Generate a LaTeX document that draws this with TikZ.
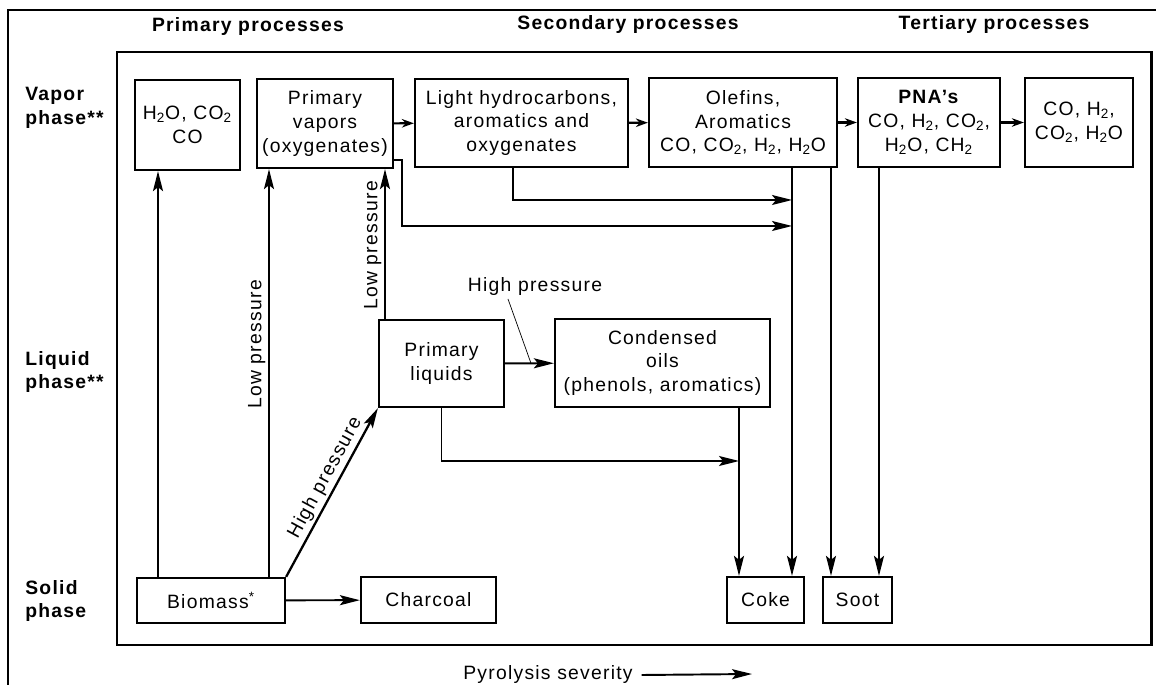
\documentclass[tikz,border=0pt]{standalone}
\usepackage{fontspec}
\setmainfont[LetterSpace=6.5]{Liberation Sans}
\usepackage{tikz}
\usetikzlibrary{arrows.meta,calc}
\newcommand{\subtwo}{\textsubscript{2}}

\begin{document}
\begin{tikzpicture}[x=0.02cm,y=-0.02cm,
	  >={Stealth[length=4mm,width=2mm,inset=0.8mm]},
	  box/.style={draw,line width=1.3pt,align=center,inner sep=0pt,font=\fontsize{11}{13.6}\selectfont},
	  head/.style={font=\bfseries\fontsize{11}{13}\selectfont},
	  phase/.style={anchor=west,align=left,inner sep=0pt,font=\bfseries\fontsize{11}{13.6}\selectfont},
	  lbl/.style={font=\fontsize{11}{13}\selectfont,inner sep=1.5pt},
	  conn/.style={->,line width=1.1pt},
	  short/.style={-{Stealth[length=2.4mm,width=1.7mm]},line width=1.2pt},
	  leader/.style={line width=0.4pt}]
	  \useasboundingbox (0,0) rectangle (1156,685);
	  \draw[line width=0.6pt] (8,685) -- (8,10) -- (1156,10);
	  \draw[line width=1.7pt] (117,52) rectangle (1151,645);
	  \node[head] (hprim) at (248,27) {Primary processes};
	  \node[head] (hsec) at (628,25) {Secondary processes};
	  \node[head] (hter) at (994,25) {Tertiary processes};
	  \node[phase] (vap) at (25,108) {Vapor\\phase**};
	  \node[phase] (liq) at (25,372) {Liquid\\phase**};
	  \node[phase] (sol) at (25,601) {Solid\\phase};
	  \node[box,minimum width=2.1cm,minimum height=1.8cm] (h2o) at (187.5,125) {H\subtwo O, CO\subtwo\\CO};
	  \node[box,minimum width=2.72cm,minimum height=1.78cm] (pvap) at (325,123.5) {Primary\\vapors\\(oxygenates)};
	  \node[box,minimum width=4.26cm,minimum height=1.76cm] (light) at (521.5,123) {Light hydrocarbons,\\aromatics and\\oxygenates};
	  \node[box,minimum width=3.76cm,minimum height=1.78cm] (olef) at (743,122.5) {Olefins,\\Aromatics\\CO, CO\subtwo, H\subtwo, H\subtwo O};
	  \node[box,minimum width=2.84cm,minimum height=1.78cm] (pna) at (929,122.5) {\textbf{PNA's}\\CO, H\subtwo, CO\subtwo,\\H\subtwo O, CH\subtwo};
	  \node[box,minimum width=2.16cm,minimum height=1.78cm] (gas) at (1079,122.5) {CO, H\subtwo,\\CO\subtwo, H\subtwo O};
	  \node[box,minimum width=2.5cm,minimum height=1.74cm] (pliq) at (441.5,363.5) {Primary\\liquids};
	  \node[box,minimum width=4.3cm,minimum height=1.76cm] (cond) at (662.5,363) {Condensed\\oils\\(phenols, aromatics)};
	  \node[box,minimum width=2.96cm,minimum height=0.9cm] (bio) at (211,600.5) {Biomass\textsuperscript{*}};
	  \node[box,minimum width=2.7cm,minimum height=0.92cm] (char) at (428.5,600) {Charcoal};
	  \node[box,minimum width=1.54cm,minimum height=0.92cm] (coke) at (765.5,600) {Coke};
	  \node[box,minimum width=1.38cm,minimum height=0.92cm] (soot) at (857.5,600) {Soot};
	  \node[lbl] (hp) at (535,287) {High pressure};
	  \node[lbl] (pyro) at (548,675) {Pyrolysis severity};
	  \coordinate (xa) at (158,0);
	  \coordinate (xb) at (269,0);
	  \coordinate (xc) at (385,0);
	  \coordinate (xd) at (831,0);
	  \coordinate (xe) at (879,0);
	  \coordinate (j1) at (792,200);
	  \coordinate (j2) at (792,226);
	  \coordinate (j3) at (739,461);
	  \coordinate (k1) at (402,226);
	  \coordinate (pend) at (752,674);
	  \draw[conn] (bio.north -| xa) -- (h2o.south -| xa);
	  \draw[conn] (bio.north -| xb) -- node[lbl,pos=0.57,sloped,above] {Low pressure} (pvap.south -| xb);
	  \draw[conn,line width=1.3pt] (bio.north east) -- node[lbl,pos=0.55,sloped,above] {High pressure} (pliq.south west);
	  \draw[conn] (bio) -- (char);
	  \draw[conn] (pliq.north -| xc) -- node[lbl,pos=0.49,sloped,above] {Low pressure} (pvap.south -| xc);
	  \draw[short] (pvap) -- (light);
	  \draw[short] (light) -- (olef);
	  \draw[short] (olef) -- (pna);
	  \draw[short] (pna) -- (gas);
	  \draw[conn] ([xshift=-0.17cm]light.south) |- (j1);
	  \draw[conn] ([yshift=-0.73cm]pvap.east) -| (k1) -- (j2);
	  \draw[conn] (olef.south -| j1) -- (coke.north -| j1);
	  \draw[conn] (olef.south -| xd) -- (soot.north -| xd);
	  \draw[conn] (pna.south -| xe) -- (soot.north -| xe);
	  \draw[conn] (cond.south -| j3) -- (coke.north -| j3);
	  \draw[conn] (pliq.south) |- (j3);
	  \draw[conn] (pliq) -- (cond);
	  \draw[leader] ([xshift=-0.54cm]hp.south) -- ($(pliq.east)!0.53!(cond.west)$);
	  \draw[conn] ([xshift=0.12cm]pyro.east) -- (pend);
	\end{tikzpicture}
\end{document}
